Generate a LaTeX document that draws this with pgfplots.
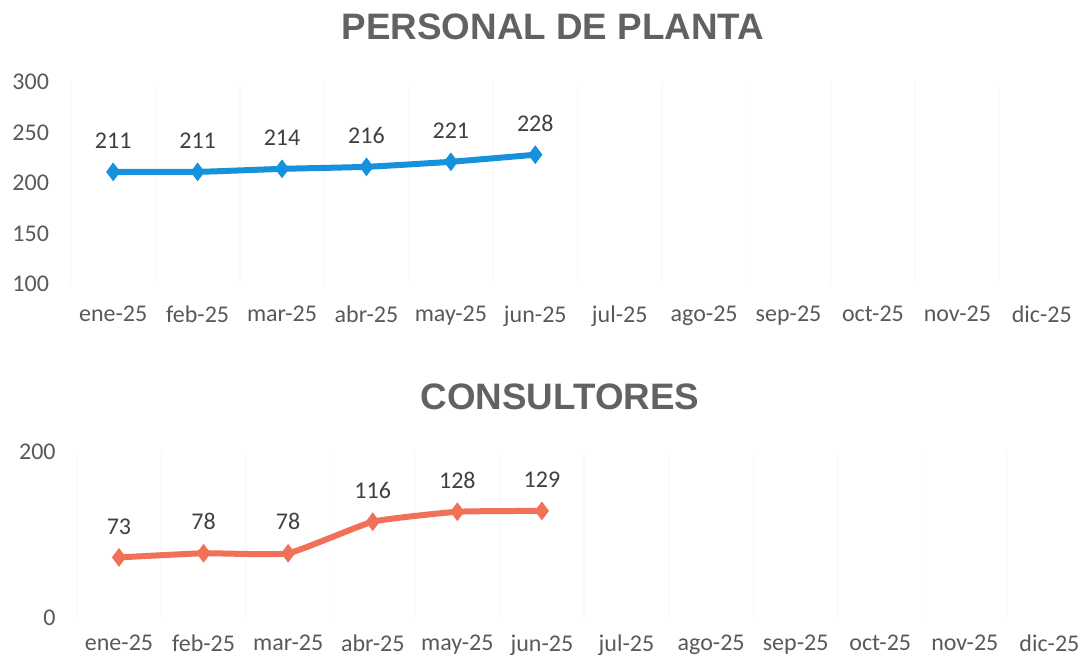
\documentclass[border=0pt]{standalone}
\usepackage{pgfplots}
\pgfplotsset{compat=1.18}
\usepackage{fontspec}
\setmainfont{Carlito}
\newfontfamily\titlefont{Liberation Sans}
\definecolor{lblue}{RGB}{22,146,220}
\definecolor{lorange}{RGB}{240,112,88}
\definecolor{tickgray}{RGB}{89,89,89}
\definecolor{titlegray}{RGB}{98,98,98}
\definecolor{lblgray}{RGB}{64,64,64}
\definecolor{gridc}{RGB}{250,250,250}
\begin{document}
\begin{tikzpicture}
\path[use as bounding box] (0,0) rectangle (540.5pt,328.5pt);
\pgfplotsset{
  mystyle/.style={
    scale only axis,
    anchor=south west,
    xmin=-0.5, xmax=11.5,
    xtick={0,...,11},
    xticklabels={ene-25,feb-25,mar-25,abr-25,may-25,jun-25,jul-25,ago-25,sep-25,oct-25,nov-25,dic-25},
    minor xtick={-0.5,0.5,...,11.5},
    minor x grid style={gridc, line width=0.8pt},
    xminorgrids=true,
    axis line style={draw=none},
    major tick length=0pt, minor tick length=0pt,
    tick label style={font=\fontsize{12}{14}\selectfont, text=tickgray},
    /pgf/number format/assume math mode=true,
    clip=false,
    nodes near coords,
    every node near coord/.append style={font=\fontsize{12}{14}\selectfont, text=lblgray, yshift=8pt},
  }
}
\begin{axis}[mystyle,
  at={(35.5pt,186.5pt)}, width=506.5pt, height=101pt,
  ymin=100, ymax=300, ytick={100,150,200,250,300},
  yticklabel style={xshift=-7.5pt},
  xticklabel style={yshift=-7.5pt},
]
\addplot[lblue, line width=3pt, smooth, tension=0.25, mark=diamond*, mark size=4.3pt, mark options={line width=0.5pt}]
  coordinates {(0,211) (1,211) (2,214) (3,216) (4,221) (5,228)};
\end{axis}
\begin{axis}[mystyle,
  at={(38.35pt,19.5pt)}, width=507.5pt, height=83pt,
  ymin=0, ymax=200, ytick={0,200},
  yticklabel style={xshift=-7pt},
  xticklabel style={yshift=-5pt},
]
\addplot[lorange, line width=3pt, smooth, tension=0.25, mark=diamond*, mark size=4.3pt, mark options={line width=0.5pt}]
  coordinates {(0,73) (1,78) (2,78) (3,116) (4,128) (5,129)};
\end{axis}
\node[font=\titlefont\bfseries\fontsize{18.4}{20}\selectfont, text=titlegray] at (276.5pt,315pt) {PERSONAL DE PLANTA};
\node[font=\titlefont\bfseries\fontsize{18.4}{20}\selectfont, text=titlegray] at (280pt,130pt) {CONSULTORES};
\end{tikzpicture}
\end{document}
